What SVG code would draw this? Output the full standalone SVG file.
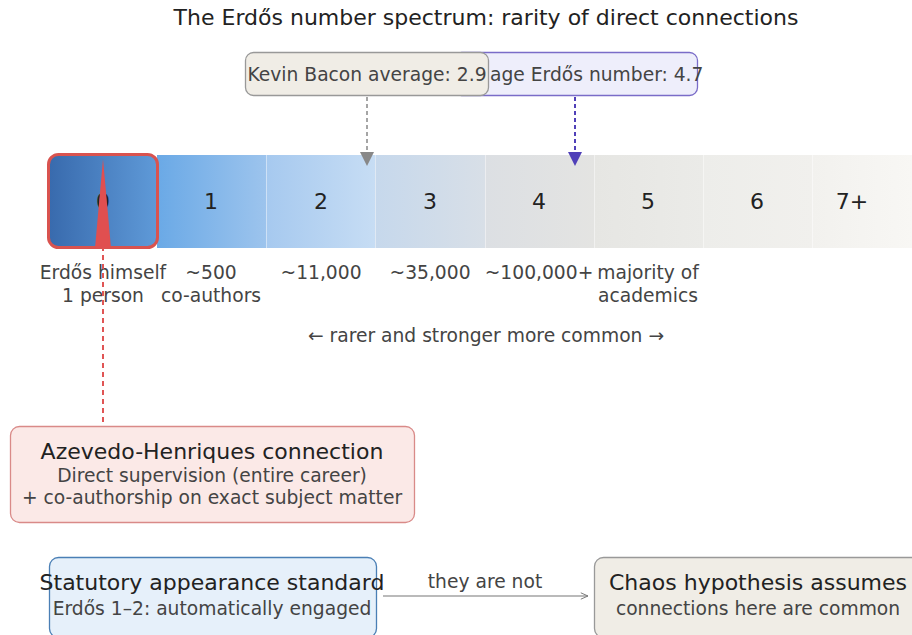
<svg xmlns="http://www.w3.org/2000/svg" width="912" height="635" viewBox="0 0 912 635">
  <style>
    text { font-family: "DejaVu Sans", "Liberation Sans", sans-serif; }
    .title { font-size: 22px; fill: #222; text-anchor: middle; }
    .num { font-size: 22px; fill: #222; text-anchor: middle; }
    .lab { font-size: 18.7px; fill: #444; text-anchor: middle; }
    .head { font-size: 22px; fill: #222; text-anchor: middle; }
    .sub { font-size: 18.7px; fill: #444; text-anchor: middle; }
    .seg-sep { stroke: #ffffff; stroke-opacity: 0.45; stroke-width: 1; }
  </style>
  <defs>
    <linearGradient id="g0" x1="0" x2="1" y1="0" y2="0"><stop offset="0" stop-color="#386aad"/><stop offset="1" stop-color="#5f9ad8"/></linearGradient>
    <linearGradient id="g1" x1="0" x2="1" y1="0" y2="0"><stop offset="0" stop-color="#6aa9e6"/><stop offset="1" stop-color="#9dc4ed"/></linearGradient>
    <linearGradient id="g2" x1="0" x2="1" y1="0" y2="0"><stop offset="0" stop-color="#a6c9ef"/><stop offset="1" stop-color="#c7ddf4"/></linearGradient>
    <linearGradient id="g3" x1="0" x2="1" y1="0" y2="0"><stop offset="0" stop-color="#c6d8ec"/><stop offset="1" stop-color="#d8dfe7"/></linearGradient>
    <linearGradient id="g4" x1="0" x2="1" y1="0" y2="0"><stop offset="0" stop-color="#dcdfe3"/><stop offset="1" stop-color="#e4e4e2"/></linearGradient>
    <linearGradient id="g5" x1="0" x2="1" y1="0" y2="0"><stop offset="0" stop-color="#e6e6e3"/><stop offset="1" stop-color="#ebebe8"/></linearGradient>
    <linearGradient id="g6" x1="0" x2="1" y1="0" y2="0"><stop offset="0" stop-color="#ededea"/><stop offset="1" stop-color="#f1f0ed"/></linearGradient>
    <linearGradient id="g7" x1="0" x2="1" y1="0" y2="0"><stop offset="0" stop-color="#f2f1ee"/><stop offset="1" stop-color="#f8f7f4"/></linearGradient>
    <marker id="arrOpen" viewBox="0 0 10 10" refX="10" refY="5" markerWidth="8" markerHeight="8" markerUnits="userSpaceOnUse" orient="auto">
      <path d="M1,1 L10,5 L1,9" fill="none" stroke="#777" stroke-width="1.2"/>
    </marker>
  </defs>

  <rect width="912" height="635" fill="#ffffff"/>

  <text class="title" x="486" y="25">The Erdős number spectrum: rarity of direct connections</text>

  <!-- spectrum bar -->
  <g id="spectrum">
    <rect x="157" y="155" width="110" height="93" fill="url(#g1)"/>
    <rect x="266" y="155" width="110" height="93" fill="url(#g2)"/>
    <rect x="375" y="155" width="110" height="93" fill="url(#g3)"/>
    <rect x="485" y="155" width="110" height="93" fill="url(#g4)"/>
    <rect x="594" y="155" width="110" height="93" fill="url(#g5)"/>
    <rect x="703" y="155" width="110" height="93" fill="url(#g6)"/>
    <rect x="812" y="155" width="100" height="93" fill="url(#g7)"/>
    <line class="seg-sep" x1="266.5" y1="155" x2="266.5" y2="248"/>
    <line class="seg-sep" x1="375.5" y1="155" x2="375.5" y2="248"/>
    <line class="seg-sep" x1="485.5" y1="155" x2="485.5" y2="248"/>
    <line class="seg-sep" x1="594.5" y1="155" x2="594.5" y2="248"/>
    <line class="seg-sep" x1="703.5" y1="155" x2="703.5" y2="248"/>
    <line class="seg-sep" x1="812.5" y1="155" x2="812.5" y2="248"/>
  </g>
  <g id="seg0">
    <rect x="48.5" y="154.5" width="109" height="93" rx="10" fill="url(#g0)" stroke="#d9534f" stroke-width="3"/>
    <text class="num" x="103" y="209">0</text>
  </g>
  <g id="seg-labels">
    <text class="num" x="211" y="209">1</text>
    <text class="num" x="321" y="209">2</text>
    <text class="num" x="430" y="209">3</text>
    <text class="num" x="539" y="209">4</text>
    <text class="num" x="648" y="209">5</text>
    <text class="num" x="757" y="209">6</text>
    <text class="num" x="852" y="209">7+</text>

    <text class="lab" x="103" y="279">Erdős himself</text>
    <text class="lab" x="103" y="302">1 person</text>
    <text class="lab" x="211" y="279">~500</text>
    <text class="lab" x="211" y="302">co-authors</text>
    <text class="lab" x="321" y="279">~11,000</text>
    <text class="lab" x="430" y="279">~35,000</text>
    <text class="lab" x="539" y="279">~100,000+</text>
    <text class="lab" x="648" y="279">majority of</text>
    <text class="lab" x="648" y="302">academics</text>

    <text class="lab" x="486" y="342">← rarer and stronger more common →</text>
  </g>

  <!-- reference markers above the bar; the purple box runs under the grey one -->
  <g id="avg-erdos">
    <rect x="453.5" y="52.5" width="244" height="43" rx="8" fill="#eeeefb" stroke="#7a6cc8" stroke-width="1.3"/>
    <text x="490" y="81" style="font-size:18.7px;fill:#444">age Erdős number: 4.7</text>
  </g>
  <g id="kevin-bacon">
    <rect x="245.5" y="52.5" width="243" height="43" rx="8" fill="#f0ede6" stroke="#999" stroke-width="1.3"/>
    <text class="sub" x="367" y="81" style="fill:#444">Kevin Bacon average: 2.9</text>
  </g>

  <g id="azevedo">
    <rect x="10.5" y="426.5" width="404" height="96" rx="9" fill="#fbe9e7" stroke="#d98a88" stroke-width="1.3"/>
    <text class="head" x="212" y="459">Azevedo-Henriques connection</text>
    <text class="sub" x="212" y="482">Direct supervision (entire career)</text>
    <text class="sub" x="212" y="504">+ co-authorship on exact subject matter</text>
  </g>

  <g id="statutory">
    <rect x="49.5" y="557.5" width="327" height="80" rx="9" fill="#e6f0fa" stroke="#4a7fb5" stroke-width="1.3"/>
    <text class="head" x="212" y="590">Statutory appearance standard</text>
    <text class="sub" x="212" y="615">Erdős 1–2: automatically engaged</text>
  </g>

  <g id="chaos">
    <rect x="594.5" y="557.5" width="330" height="80" rx="9" fill="#f0ede6" stroke="#999" stroke-width="1.3"/>
    <text class="head" x="758" y="590">Chaos hypothesis assumes</text>
    <text class="sub" x="758" y="615">connections here are common</text>
  </g>

  <!-- connectors -->
  <g id="connectors">
    <line x1="367" y1="97" x2="367" y2="154" stroke="#888" stroke-width="1.5" stroke-dasharray="4,3"/>
    <polygon points="360,152 374,152 367,166" fill="#888"/>

    <line x1="575" y1="97" x2="575" y2="154" stroke="#5040b8" stroke-width="2" stroke-dasharray="4,3"/>
    <polygon points="568,152 582,152 575,166" fill="#5040b8"/>

    <line x1="103" y1="422" x2="103" y2="248" stroke="#e05555" stroke-width="2" stroke-dasharray="5,4"/>
    <polygon points="95,248 111,248 103,159" fill="#e04f50"/>

    <line x1="383" y1="596" x2="588" y2="596" stroke="#777" stroke-width="1.2" marker-end="url(#arrOpen)"/>
    <text class="lab" x="485" y="588">they are not</text>
  </g>
</svg>
